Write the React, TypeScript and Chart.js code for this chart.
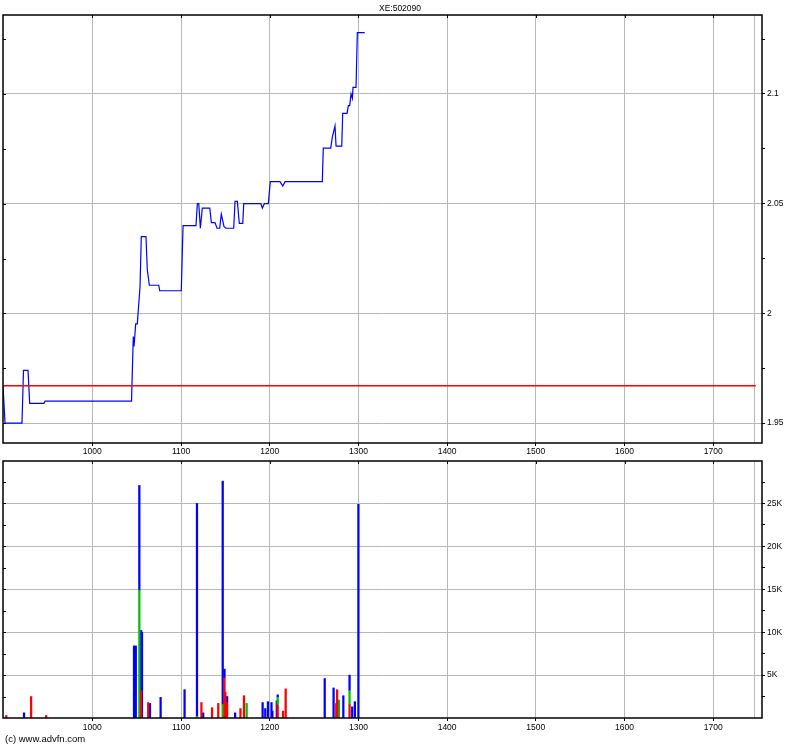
import React, { useEffect, useRef } from 'react';
import { Chart, registerables } from 'chart.js';

Chart.register(...registerables);

const TITLE = 'XE:502090';
const COPYRIGHT = '(c) www.advfn.com';

const X_MIN = 899.3;
const X_MAX = 1755;
const END_MARK = 1746;
const xTicks = [1000, 1100, 1200, 1300, 1400, 1500, 1600, 1700];

const PRICE_MIN = 1.9409;
const PRICE_MAX = 2.136;
const priceTicks = [1.95, 1.975, 2, 2.025, 2.05, 2.075, 2.1, 2.125];
const priceLabels = [1.95, 2, 2.05, 2.1];
const PREV_CLOSE = 1.967;
const PREV_CLOSE_END = 1748;

const priceX = [899.3, 901.6, 920.7, 922.4, 927.5, 929.4, 945.5, 946.7, 1044.2, 1046.2, 1047.0, 1048.9, 1050.7, 1053.8, 1055.2, 1060.5, 1062.0, 1064.3, 1074.9, 1076.0, 1100.3, 1102.3, 1116.9, 1118.4, 1120.0, 1121.8, 1124.0, 1132.4, 1134.2, 1138.3, 1140.6, 1143.6, 1145.4, 1148.5, 1150.7, 1159.4, 1160.9, 1163.5, 1165.7, 1169.6, 1170.7, 1189.9, 1191.7, 1193.9, 1198.4, 1200.7, 1211.6, 1214.7, 1217.3, 1259.3, 1260.4, 1268.8, 1270.6, 1273.6, 1274.8, 1281.2, 1282.3, 1287.2, 1288.6, 1290.2, 1291.7, 1293.2, 1293.9, 1297.3, 1298.8, 1307.1];
const priceY = [1.967, 1.95, 1.95, 1.974, 1.974, 1.959, 1.959, 1.96, 1.96, 1.9894, 1.9849, 1.9952, 1.9952, 2.0122, 2.035, 2.035, 2.0198, 2.0128, 2.0128, 2.0103, 2.0103, 2.04, 2.04, 2.05, 2.05, 2.0388, 2.048, 2.048, 2.0414, 2.0414, 2.0388, 2.0388, 2.0452, 2.0395, 2.0388, 2.0388, 2.051, 2.051, 2.041, 2.041, 2.05, 2.05, 2.048, 2.05, 2.05, 2.06, 2.06, 2.058, 2.06, 2.06, 2.0753, 2.0753, 2.0803, 2.0854, 2.0762, 2.0762, 2.0912, 2.0912, 2.0947, 2.0947, 2.1, 2.098, 2.103, 2.103, 2.128, 2.128];

// Volume (thousands), stacked: red (bottom), green, blue (top)
const VOL_MAX = 29.95;
const volTicks = [2.5, 5, 7.5, 10, 12.5, 15, 17.5, 20, 22.5, 25, 27.5];
const volLabels = [5, 10, 15, 20, 25];
const volX =     [903, 923, 931, 948, 1047, 1048, 1049, 1053, 1055, 1056, 1063, 1065, 1077, 1104, 1118, 1123, 1125, 1135, 1142, 1147, 1149, 1150, 1152, 1161, 1167, 1171, 1174, 1192, 1195, 1198, 1202, 1203, 1208, 1209, 1215, 1218, 1262, 1272, 1275, 1276, 1278, 1283, 1290, 1293, 1296, 1300];
const volRed =   [0.3, 0,   2.5, 0.3, 0,   0,   0,   0,    3.2, 0,    1.8, 0,   0,   0,   0,   1.8, 0,   1.2, 1.7, 0,   4.7, 3.0, 1.8, 0,   1.1, 2.6, 0,   0,   0,   0,   0,   0,   0,   1.5, 0.8, 3.4, 0,   0,   1.7, 3.3, 0,   0,   1.55, 0,   0,   0];
const volGreen = [0,   0,   0,   0,   0,   0,   0,   14.9, 0,   0,    0,   0,   0,   0,   0.2, 0,   0,   0,   0,   1.6, 0,   0,   0,   0,   0,   0,   1.7, 0,   0,   0,   0,   0,   0,   0.9, 0,   0,   0,   0,   0,   0,   2.1, 0,   1.65, 0,   0,   0];
const volBlue =  [0,   0.6, 0,   0,   8.4, 1.6, 8.4, 12.2, 7.0, 10.0, 0,   1.7, 2.4, 3.3, 24.8, 0,  0.6, 0,   0,   26.0, 1.0, 0,  0.7, 0.6, 0,   0,   0,   1.8, 1.1, 1.9, 1.8, 0.8, 2.0, 0.3, 0,   0,   4.6, 3.5, 0,   0,   0,   2.6, 1.8, 1.3, 1.9, 24.9];

const GRID = '#b4b9b9';
const FONT = { family: 'Liberation Sans, Arial, sans-serif', size: 8.5 };

const near = (list: number[], v: number) => list.some((m) => Math.abs(m - v) < 1e-6);

const framePlugin = {
  id: 'frame',
  beforeDatasetsDraw(chart: any) {
    const { ctx, chartArea: a, scales } = chart;
    const ex = Math.round(scales.x.getPixelForValue(END_MARK)) + 0.5;
    ctx.save();
    ctx.strokeStyle = GRID;
    ctx.lineWidth = 1;
    ctx.beginPath();
    ctx.moveTo(ex, a.top);
    ctx.lineTo(ex, a.bottom);
    ctx.stroke();
    ctx.restore();
  },
  afterDraw(chart: any, _args: any, opts: any) {
    const { ctx, chartArea: a, scales } = chart;
    ctx.save();
    ctx.strokeStyle = '#000';
    ctx.lineWidth = 1.5;
    ctx.strokeRect(a.left, a.top, a.right - a.left, a.bottom - a.top);
    ctx.lineWidth = 1;
    ctx.beginPath();
    for (const t of scales.y.ticks) {
      const y = Math.round(scales.y.getPixelForValue(t.value)) + 0.5;
      ctx.moveTo(a.left, y);
      ctx.lineTo(a.left + 3, y);
    }
    for (const t of scales.x.ticks) {
      const x = Math.round(scales.x.getPixelForValue(t.value)) + 0.5;
      ctx.moveTo(x, a.top);
      ctx.lineTo(x, a.top + 3);
    }
    ctx.stroke();
    ctx.fillStyle = '#000';
    if (opts && opts.title) {
      ctx.font = '8.5px "Liberation Sans", Arial, sans-serif';
      ctx.textAlign = 'center';
      ctx.textBaseline = 'middle';
      ctx.fillText(opts.title, chart.width / 2, 9);
    }
    if (opts && opts.footer) {
      ctx.font = '9.5px "Liberation Sans", Arial, sans-serif';
      ctx.textAlign = 'left';
      ctx.textBaseline = 'middle';
      ctx.fillText(opts.footer, 5, chart.height - 8);
    }
    ctx.restore();
  },
};

function xScale(height: number, padding: number, extra: any = {}) {
  return {
    type: 'linear',
    min: X_MIN,
    max: X_MAX,
    ...extra,
    afterBuildTicks: (s: any) => {
      s.ticks = xTicks.map((v) => ({ value: v }));
    },
    afterFit: (s: any) => {
      s.height = height;
      s.paddingLeft = 0;
      s.paddingRight = 0;
    },
    grid: { color: GRID, tickColor: '#000', tickLength: 3, lineWidth: 1, offset: false },
    border: { display: false },
    ticks: {
      callback: (v: any) => String(v),
      padding,
      maxRotation: 0,
      autoSkip: false,
      color: '#000',
      font: FONT,
    },
  };
}

function yScale(min: number, max: number, ticks: number[], labels: number[], fmt: (v: number) => string, extra: any = {}) {
  return {
    position: 'right',
    min,
    max,
    ...extra,
    afterBuildTicks: (s: any) => {
      s.ticks = ticks.map((v) => ({ value: v }));
    },
    afterFit: (s: any) => {
      s.width = 38;
      s.paddingTop = 0;
      s.paddingBottom = 0;
    },
    grid: {
      color: (c: any) => (c.tick && near(labels, c.tick.value) ? GRID : 'rgba(0,0,0,0)'),
      tickColor: '#000',
      tickLength: 3,
      lineWidth: 1,
    },
    border: { display: false },
    ticks: {
      callback: (v: any) => (near(labels, v) ? fmt(Number(v)) : ''),
      padding: 2,
      autoSkip: false,
      color: '#000',
      font: FONT,
    },
  };
}

export default function App() {
  const priceRef = useRef<HTMLCanvasElement>(null);
  const volRef = useRef<HTMLCanvasElement>(null);

  useEffect(() => {
    const priceChart = new Chart(priceRef.current as HTMLCanvasElement, {
      type: 'line',
      data: {
        datasets: [
          {
            label: 'Prev close',
            data: [
              { x: X_MIN, y: PREV_CLOSE },
              { x: PREV_CLOSE_END, y: PREV_CLOSE },
            ],
            borderColor: '#ff0000',
            borderWidth: 1.3,
            pointRadius: 0,
          },
          {
            label: 'Price',
            data: priceX.map((x, i) => ({ x, y: priceY[i] })),
            borderColor: '#0000ff',
            borderWidth: 1.2,
            pointRadius: 0,
            tension: 0,
          },
        ],
      },
      options: {
        animation: false,
        responsive: false,
        layout: { padding: { left: 3, top: 15, right: 0, bottom: 0 } },
        plugins: {
          legend: { display: false },
          tooltip: { enabled: false },
          frame: { title: TITLE },
        } as any,
        scales: {
          x: xScale(17, 1) as any,
          y: yScale(PRICE_MIN, PRICE_MAX, priceTicks, priceLabels, (v) => String(+v.toFixed(3))) as any,
        },
      },
      plugins: [framePlugin as any],
    });

    const mk = (vals: number[], color: string, label: string) => ({
      label,
      data: volX.map((x, i) => ({ x, y: vals[i] })).filter((p) => p.y > 0),
      backgroundColor: color,
      borderWidth: 0,
      barThickness: 1.6,
    });

    const volChart = new Chart(volRef.current as HTMLCanvasElement, {
      type: 'bar',
      data: {
        datasets: [
          mk(volRed, '#ff0000', 'Sell'),
          mk(volGreen, '#00c000', 'Other'),
          mk(volBlue, '#0000ff', 'Buy'),
        ] as any,
      },
      options: {
        animation: false,
        responsive: false,
        layout: { padding: { left: 3, top: 1, right: 0, bottom: 0 } },
        plugins: {
          legend: { display: false },
          tooltip: { enabled: false },
          frame: { footer: COPYRIGHT },
        } as any,
        scales: {
          x: xScale(29, 2, { offset: false, stacked: true }) as any,
          y: yScale(0, VOL_MAX, volTicks, volLabels, (v) => `${v}K`, { stacked: true }) as any,
        },
      },
      plugins: [framePlugin as any],
    });

    return () => {
      priceChart.destroy();
      volChart.destroy();
    };
  }, []);

  return (
    <div style={{ position: 'absolute', left: 0, top: 0, width: 800, height: 747, background: '#fff' }}>
      <canvas ref={priceRef} width={800} height={460} style={{ position: 'absolute', left: 0, top: 0 }} />
      <canvas ref={volRef} width={800} height={287} style={{ position: 'absolute', left: 0, top: 460 }} />
    </div>
  );
}
